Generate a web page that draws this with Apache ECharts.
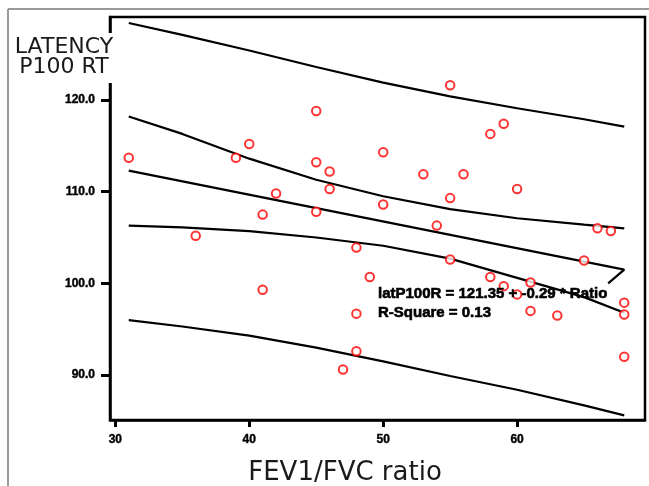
<!DOCTYPE html>
<html>
<head>
<meta charset="utf-8">
<script src="https://cdn.jsdelivr.net/npm/echarts@6/dist/echarts.min.js"></script>
<style>
html,body{margin:0;padding:0;background:#fff;}
#chart{width:649px;height:486px;}
</style>
</head>
<body>
<div id="chart"></div>
<script>
// Observed points
const ratio = [31,36,39,40,41,41,42,45,45,45,46,46,47,48,48,48,49,50,50,53,54,55,55,55,56,58,58,59,59,60,60,61,61,63,65,66,67,68,68,68];
const latency = [113.7,105.2,113.7,115.2,107.5,99.3,109.8,118.8,113.2,107.8,112.2,110.3,90.6,103.9,96.7,92.6,100.7,114.3,108.6,111.9,106.3,121.6,109.3,102.6,111.9,116.3,100.7,117.4,99.7,110.3,98.8,100.1,97.0,96.5,102.5,106.0,105.7,97.9,96.6,92.0];

// Fitted line (as drawn, including the small return stroke at the end)
const fitX = [31, 68, 66.8];
const fitY = [112.3, 101.5, 100.0];

// Confidence / prediction bands read at these ratios
const bandX = [31, 35, 40, 45, 50, 55, 60, 65, 68];
const ciUpper = [118.2, 116.3, 113.6, 111.3, 109.5, 108.1, 107.1, 106.4, 106.0];
const ciLower = [106.3, 106.1, 105.7, 105.0, 104.1, 102.7, 100.6, 98.5, 96.8];
const piUpper = [128.4, 127.1, 125.4, 123.6, 121.9, 120.4, 119.1, 117.9, 117.1];
const piLower = [96.0, 95.3, 94.3, 93.0, 91.5, 89.9, 88.4, 86.7, 85.6];

const xTicks = [30, 40, 50, 60];
const yTicks = [90, 100, 110, 120];

const yTitle = 'LATENCY\nP100 RT';
const xTitle = 'FEV1/FVC ratio';
const eqText = 'latP100R = 121.35 + -0.29 * Ratio';
const r2Text = 'R-Square = 0.13';

const zip = (a, b) => a.map((v, i) => [v, b[i]]);

const lineStyle = { color: '#000', width: 2.2 };
function lineSeries(xs, ys) {
  return {
    type: 'line', data: zip(xs, ys), showSymbol: false, symbol: 'none',
    lineStyle: lineStyle, silent: true, z: 3
  };
}

const tickLabel = {
  color: '#000', fontFamily: 'Liberation Sans, Arial, sans-serif', fontWeight: 'bold', fontSize: 12,
  textBorderColor: '#000', textBorderWidth: 0.4
};

const chart = echarts.init(document.getElementById('chart'), null, { renderer: 'canvas' });
chart.setOption({
  animation: false,
  backgroundColor: '#fff',
  grid: { left: 110, top: 17, right: 4, bottom: 66, show: true, borderColor: '#000', borderWidth: 2.5, backgroundColor: 'transparent' },
  xAxis: {
    type: 'value', min: 29.6, max: 69.55,
    axisLine: { show: true, lineStyle: { color: '#000', width: 2.5 } },
    axisTick: { show: true, length: 7, inside: false, customValues: xTicks, lineStyle: { color: '#000', width: 3 } },
    axisLabel: Object.assign({ customValues: xTicks, margin: 14 }, tickLabel),
    splitLine: { show: false }
  },
  yAxis: {
    type: 'value', min: 85.1, max: 129.05,
    axisLine: { show: true, lineStyle: { color: '#000', width: 2.5 } },
    axisTick: { show: true, length: 9, inside: false, customValues: yTicks, lineStyle: { color: '#000', width: 3 } },
    axisLabel: Object.assign({ customValues: yTicks, margin: 15, formatter: v => v.toFixed(1) }, tickLabel),
    splitLine: { show: false }
  },
  series: [
    lineSeries(bandX, piUpper),
    lineSeries(bandX, ciUpper),
    lineSeries(fitX, fitY),
    lineSeries(bandX, ciLower),
    lineSeries(bandX, piLower),
    {
      type: 'scatter', data: zip(ratio, latency), symbol: 'emptyCircle', symbolSize: 8.5,
      itemStyle: { color: '#ff0000', borderColor: '#ff0000', borderWidth: 2 }, z: 4, silent: true
    }
  ],
  graphic: [
    { type: 'line', z: 100, shape: { x1: 8, y1: 9, x2: 649, y2: 9 }, style: { stroke: '#9a9a9a', lineWidth: 2 } },
    { type: 'line', z: 100, shape: { x1: 8, y1: 9, x2: 8, y2: 486 }, style: { stroke: '#9a9a9a', lineWidth: 2 } },
    { type: 'rect', z: 100, shape: { x: 12, y: 33, width: 104, height: 50 }, style: { fill: '#fff' } },
    { type: 'text', z: 101, x: 64, y: 57, style: { text: yTitle, fill: '#1a1a1a', font: '22px "DejaVu Sans", Verdana, sans-serif', align: 'center', verticalAlign: 'middle', lineHeight: 20 } },
    { type: 'text', z: 101, x: 345, y: 473, style: { text: xTitle, fill: '#1a1a1a', font: '26px "DejaVu Sans", Verdana, sans-serif', align: 'center', verticalAlign: 'middle' } },
    { type: 'text', z: 101, x: 378, y: 294, style: { text: eqText, fill: '#000', stroke: '#000', lineWidth: 0.6, font: 'bold 15px "Liberation Sans", Arial, sans-serif', align: 'left', verticalAlign: 'middle' } },
    { type: 'text', z: 101, x: 378, y: 313, style: { text: r2Text, fill: '#000', stroke: '#000', lineWidth: 0.6, font: 'bold 15px "Liberation Sans", Arial, sans-serif', align: 'left', verticalAlign: 'middle' } }
  ]
});
</script>
</body>
</html>
